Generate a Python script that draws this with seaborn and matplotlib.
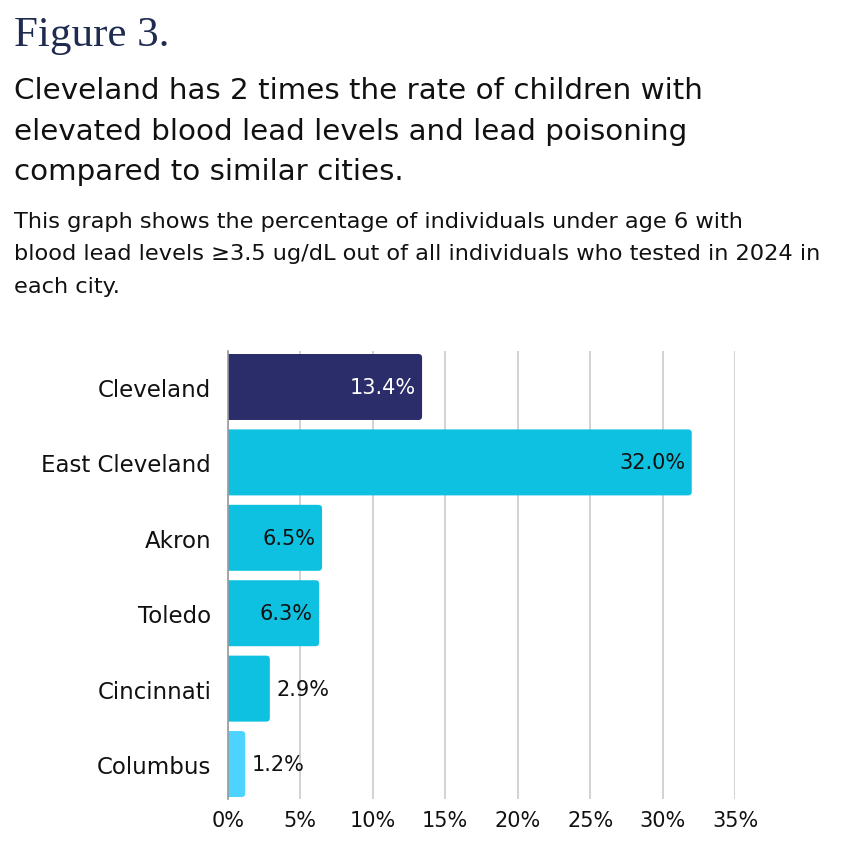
import pandas as pd
import matplotlib.pyplot as plt
import seaborn as sns
from matplotlib.patches import FancyBboxPatch

# chart data
cities = ['Cleveland', 'East Cleveland', 'Akron', 'Toledo', 'Cincinnati', 'Columbus']
rates = [13.4, 32.0, 6.5, 6.3, 2.9, 1.2]
bar_colors = ['#2B2D6B', '#0EC1E0', '#0EC1E0', '#0EC1E0', '#0EC1E0', '#4DD3FF']
x_ticks = [0, 5, 10, 15, 20, 25, 30, 35]

title = 'Figure 3.'
headline = ('Cleveland has 2 times the rate of children with\n'
            'elevated blood lead levels and lead poisoning\n'
            'compared to similar cities.')
subtitle = ('This graph shows the percentage of individuals under age 6 with\n'
            'blood lead levels \u22653.5 ug/dL out of all individuals who tested in 2024 in\n'
            'each city.')


def round_bars(ax):
    # swap the plain rectangles for ones with softly rounded corners
    x_per_px = 35 / 507
    y_per_px = 6 / 448
    for p in list(ax.patches):
        x, y = p.get_x(), p.get_y()
        w, h = p.get_width(), p.get_height()
        fb = FancyBboxPatch((x - 0.5, y), w + 0.5, h,
                            boxstyle='round,pad=0,rounding_size=0.25',
                            mutation_aspect=y_per_px / x_per_px,
                            facecolor=p.get_facecolor(), edgecolor='none',
                            zorder=p.get_zorder())
        p.remove()
        ax.add_patch(fb)


def main():
    sns.set_theme(style='white')
    plt.rcParams['font.family'] = ['DejaVu Sans']

    df = pd.DataFrame({'city': cities, 'rate': rates})

    fig = plt.figure(figsize=(8.5, 8.54), dpi=100)
    ax = fig.add_axes([0.268, 0.0632, 0.597, 0.5246])

    sns.barplot(data=df, y='city', x='rate', hue='city', palette=bar_colors,
                order=cities, hue_order=cities, width=0.875, legend=False,
                saturation=1, ax=ax, orient='h')
    round_bars(ax)

    ax.set_xlim(0, 35)
    ax.set_ylim(5.464, -0.477)
    ax.set_xticks(x_ticks)
    ax.set_xticklabels([f'{t}%' for t in x_ticks], fontsize=15, color='#111111')
    ax.tick_params(axis='y', labelsize=16.5, labelcolor='#111111', pad=12, length=0)
    ax.tick_params(axis='x', pad=8, length=0)
    ax.set_xlabel('')
    ax.set_ylabel('')

    ax.grid(axis='x', color='#CFCFCF', linewidth=1.3)
    ax.set_axisbelow(True)
    for side in ['top', 'right', 'bottom']:
        ax.spines[side].set_visible(False)
    ax.spines['left'].set_color('#9A9A9A')
    ax.spines['left'].set_linewidth(1.2)

    # value labels: inside the long bars, outside the short ones
    for i, (city, val) in enumerate(zip(cities, rates)):
        label = f'{val:.1f}%'
        if val > 5:
            color = 'white' if i == 0 else '#111111'
            ax.text(val - 0.45, i, label, ha='right', va='center',
                    fontsize=15, color=color)
        else:
            ax.text(val + 0.45, i, label, ha='left', va='center',
                    fontsize=15, color='#111111')

    fig.text(0.016, 0.958, title, fontsize=31, color='#1F2B4F',
             family=['Liberation Serif', 'DejaVu Serif'], va='center')
    fig.text(0.016, 0.846, headline, fontsize=21.2, color='#111111',
             va='center', linespacing=1.57)
    fig.text(0.016, 0.702, subtitle, fontsize=16.2, color='#111111',
             va='center', linespacing=1.76)

    fig.savefig('out.png', dpi=100, facecolor='white')


if __name__ == "__main__":
    main()
